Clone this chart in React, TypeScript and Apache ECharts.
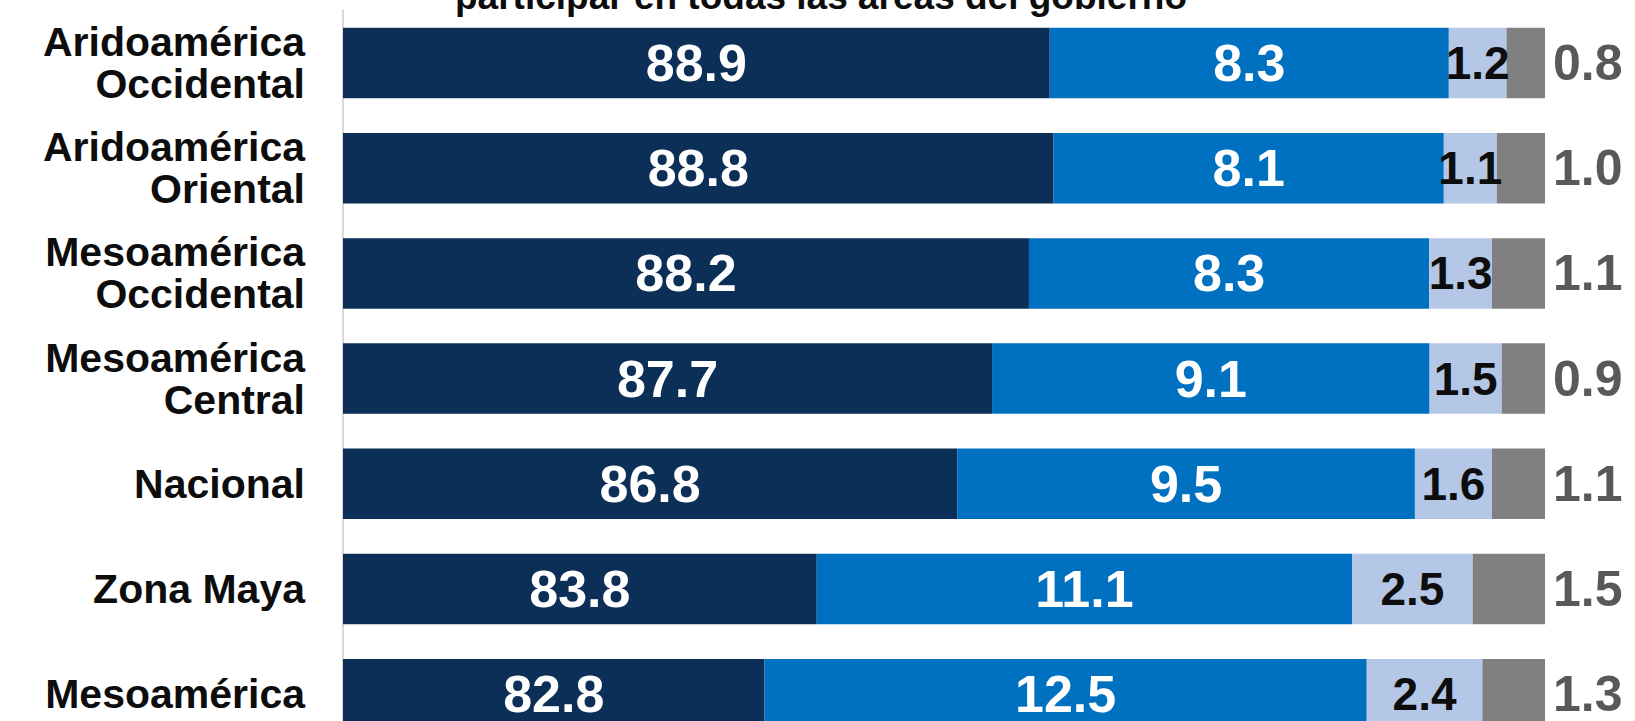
import React, { useEffect, useRef } from "react";
import * as echarts from "echarts";

const categories = [
  "Aridoamérica\nOccidental",
  "Aridoamérica\nOriental",
  "Mesoamérica\nOccidental",
  "Mesoamérica\nCentral",
  "Nacional",
  "Zona Maya",
  "Mesoamérica",
];

const seriesNames = ["De acuerdo", "De acuerdo en parte", "En desacuerdo", "NS/NR"];

const deAcuerdo = [88.9, 88.8, 88.2, 87.7, 86.8, 83.8, 82.8];
const enParte = [8.3, 8.1, 8.3, 9.1, 9.5, 11.1, 12.5];
const enDesacuerdo = [1.2, 1.1, 1.3, 1.5, 1.6, 2.5, 2.4];
const nsnr = [0.8, 1.0, 1.1, 0.9, 1.1, 1.5, 1.3];

const titleText = "participar en todas las áreas del gobierno";

const FONT = "'Liberation Sans', Arial, Helvetica, sans-serif";

export default function App() {
  const ref = useRef<HTMLDivElement>(null);

  useEffect(() => {
    if (!ref.current) return;
    const chart = echarts.init(ref.current, undefined, { renderer: "svg" });

    const raw = [deAcuerdo, enParte, enDesacuerdo, nsnr];
    const totals = categories.map((_, i) => raw.reduce((s, arr) => s + arr[i], 0));
    const norm = raw.map((arr) => arr.map((v, i) => (v / totals[i]) * 100));

    const colors = ["#0B2F57", "#0070C0", "#B4C7E7", "#808080"];
    const labelColors = ["#ffffff", "#ffffff", "#0D0D0D", "#595959"];
    const labelSizes = [52, 52, 46, 50];

    const series = raw.map((arr, k) => ({
      name: seriesNames[k],
      type: "bar",
      stack: "total",
      barCategoryGap: "33%",
      clip: true,
      itemStyle: { color: colors[k] },
      label: {
        show: true,
        position: k === 3 ? "right" : "inside",
        distance: k === 3 ? 8 : 5,
        color: labelColors[k],
        fontSize: labelSizes[k],
        fontWeight: "bold",
        fontFamily: FONT,
        formatter: (p: any) => arr[p.dataIndex].toFixed(1),
      },
      data: norm[k],
    }));

    chart.setOption({
      animation: false,
      backgroundColor: "#ffffff",
      grid: { left: 343, width: 1202, top: 10.4, height: 736.4, containLabel: false },
      xAxis: {
        type: "value",
        min: 74.8,
        max: 100,
        show: false,
        splitLine: { show: false },
      },
      yAxis: {
        type: "category",
        inverse: true,
        data: categories,
        axisLine: { show: true, lineStyle: { color: "#D9D9D9", width: 2 } },
        axisTick: { show: false },
        axisLabel: {
          margin: 38,
          color: "#0D0D0D",
          fontSize: 41,
          lineHeight: 42,
          fontWeight: "bold",
          fontFamily: FONT,
          align: "right",
          padding: [0, 0, 6, 0],
        },
      },
      graphic: [
        {
          type: "text",
          x: 821,
          y: -4,
          style: {
            text: titleText,
            fontSize: 37,
            fontWeight: "bold",
            fontFamily: FONT,
            fill: "#0D0D0D",
            align: "center",
            verticalAlign: "middle",
          },
        },
      ],
      series,
    });

    return () => chart.dispose();
  }, []);

  return (
    <div
      ref={ref}
      style={{ position: "fixed", left: 0, top: 0, width: 1635, height: 760 }}
    />
  );
}
